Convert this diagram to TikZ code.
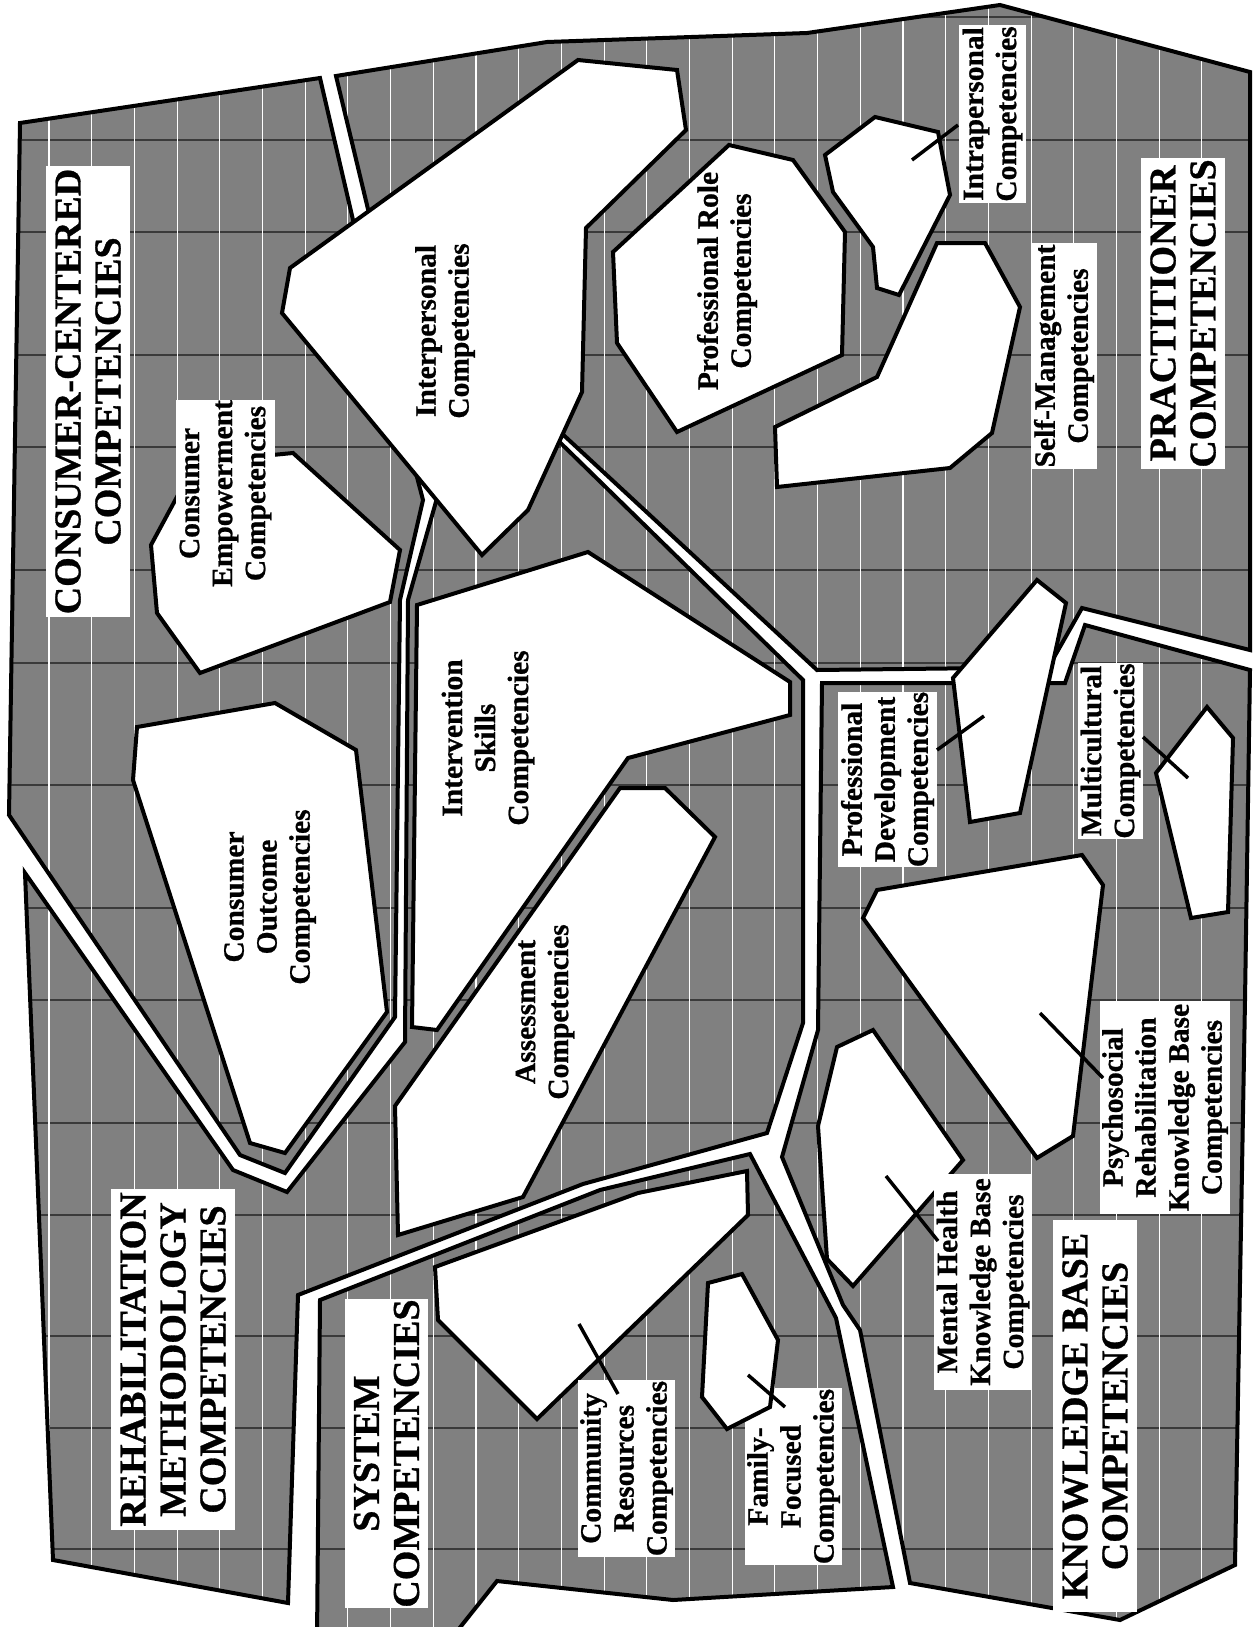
\documentclass[tikz,border=0pt]{standalone}
\usepackage{fontspec}
\setmainfont{Liberation Serif}[BoldFeatures={FakeBold=0.8}]
\definecolor{regiongray}{RGB}{128,128,128}
\definecolor{gridgray}{RGB}{58,58,58}
\newcommand\lblfont{\bfseries\fontsize{29.5}{33}\selectfont}
\newcommand\bigfont{\bfseries\fontsize{38}{40}\selectfont}
% grid of dark horizontal and white vertical rules inside every area
\newcommand\hatchgrid{%
  \foreach \gy in {17,140,232,355,447,570,663,785,908,1000,1123,1215,1336,1428,1549}
    {\draw[hline] (0,\gy) -- (1254,\gy);}
  \foreach \k in {0,...,27}
    {\draw[vline] ({49+42.7*\k},0) -- ({49+42.7*\k},1640);}
}
% one grey competency area: fill, grid, outline
\newcommand\comparea[1]{%
  \fill[regiongray] #1;
  \begin{scope}\clip #1; \hatchgrid \end{scope}
  \draw[edgeline] #1;
}
\tikzset{
  edgeline/.style={draw=black, line width=4pt, line join=miter},
  compshape/.style={fill=white, draw=black, line width=4pt, line join=miter},
  hline/.style={draw=gridgray, line width=1.2pt},
  vline/.style={draw=white, line width=1.1pt},
  leader/.style={draw=black, line width=3.5pt},
  lbl/.style={rotate=90, align=center, font=\lblfont, inner sep=0pt},
  lblbox/.style={lbl, fill=white},
  bigbox/.style={rotate=90, align=center, font=\bigfont, fill=white, inner sep=0pt},
}
\begin{document}
\begin{tikzpicture}[x=1pt,y=-1pt]
\useasboundingbox (0,0) rectangle (1254,1627);
\clip (0,0) rectangle (1254,1627);

% ---- the five grey areas ----
% consumer-centered
\comparea{(20,123) -- (320,78) -- (360,250) -- (412,458) -- (423,500) -- (400,600) -- (395,1017) -- (285,1173) -- (240,1155) -- (9,815) -- cycle}
% practitioner
\comparea{(336,76) -- (547,42) -- (807,33) -- (1000,5) -- (1250,72) -- (1250,650) -- (1082,608) -- (1044,675) -- (990,668) -- (817,670) -- (530,404) -- (373,230) -- cycle}
% rehabilitation methodology
\comparea{(445,470) -- (535,418) -- (803,680) -- (803,1023) -- (767,1133) -- (583,1184) -- (298,1295) -- (288,1603) -- (53,1560) -- (25,873) -- (233,1170) -- (287,1192) -- (405,1042) -- (408,600) -- cycle}
% system
\comparea{(320,1300) -- (600,1190) -- (750,1154) -- (836,1318) -- (893,1587) -- (673,1600) -- (497,1581) -- (450,1640) -- (317,1640) -- cycle}
% knowledge base
\comparea{(822,683) -- (1065,683) -- (1085,625) -- (1250,670) -- (1245,1000) -- (1235,1565) -- (1120,1620) -- (910,1583) -- (860,1330) -- (843,1305) -- (782,1157) -- (818,1030) -- cycle}

% ---- white competency shapes ----
\draw[compshape] (578,60) -- (677,70) -- (686,130) -- (586,228) -- (582,392) -- (528,510) -- (482,555) -- (282,313) -- (290,268) -- cycle;
\draw[compshape] (729,145) -- (793,160) -- (845,232) -- (842,355) -- (677,432) -- (617,343) -- (613,252) -- cycle;
\draw[compshape] (875,117) -- (938,132) -- (950,195) -- (899,295) -- (877,288) -- (873,247) -- (833,192) -- (825,155) -- cycle;
\draw[compshape] (937,243) -- (985,243) -- (1020,307) -- (992,433) -- (950,468) -- (777,487) -- (775,427) -- (877,377) -- cycle;
\draw[compshape] (293,453) -- (400,550) -- (390,602) -- (200,673) -- (157,613) -- (151,545) -- (178,495) -- (200,462) -- cycle;
\draw[compshape] (137,727) -- (275,703) -- (356,750) -- (387,1012) -- (285,1153) -- (250,1143) -- (133,780) -- cycle;
\draw[compshape] (417,605) -- (588,552) -- (790,682) -- (790,715) -- (628,758) -- (437,1030) -- (412,1027) -- cycle;
\draw[compshape] (620,788) -- (665,788) -- (715,837) -- (523,1197) -- (398,1235) -- (395,1106) -- cycle;
\draw[compshape] (953,678) -- (1037,580) -- (1066,603) -- (1020,813) -- (970,822) -- cycle;
\draw[compshape] (1207,707) -- (1233,738) -- (1228,912) -- (1191,918) -- (1156,773) -- cycle;
\draw[compshape] (877,890) -- (1082,855) -- (1103,885) -- (1073,1136) -- (1037,1158) -- (863,918) -- cycle;
\draw[compshape] (837,1047) -- (873,1030) -- (963,1160) -- (853,1286) -- (827,1259) -- (818,1126) -- cycle;
\draw[compshape] (435,1267) -- (638,1193) -- (747,1171) -- (748,1215) -- (537,1419) -- (438,1320) -- cycle;
\node[lblbox, minimum width=177, minimum height=97] (familyLbl) at (793.5,1476.5) {Family-\\Focused\\Competencies};
\draw[compshape] (708,1283) -- (742,1274) -- (778,1340) -- (770,1407) -- (727,1429) -- (702,1397) -- cycle;

% ---- labels inside shapes ----
\node[lbl] (interLbl) at (445,331) {Interpersonal\\Competencies};
\node[lbl] (roleLbl) at (727,281) {Professional Role\\Competencies};
\node[lbl] (outcomeLbl) at (270,897) {Consumer\\Outcome\\Competencies};
\node[lbl] (interventionLbl) at (488,738) {Intervention\\Skills\\Competencies};
\node[lbl] (assessLbl) at (545,1012) {Assessment\\Competencies};

% ---- boxed labels ----
\node[lblbox, minimum width=178, minimum height=67] (intraLbl) at (992.5,114) {Intrapersonal\\Competencies};
\node[lblbox, minimum width=226, minimum height=66] (selfLbl) at (1064,356) {Self-Management\\Competencies};
\node[lblbox, minimum width=183, minimum height=99] (empowerLbl) at (225.5,493.5) {Consumer\\Empowerment\\Competencies};
\node[lblbox, minimum width=175, minimum height=99] (pdLbl) at (887.5,779.5) {Professional\\Development\\Competencies};
\node[lblbox, minimum width=176, minimum height=65] (multiLbl) at (1110.5,751) {Multicultural\\Competencies};
\node[lblbox, minimum width=213, minimum height=130] (psychoLbl) at (1165,1107.5) {Psychosocial\\Rehabilitation\\Knowledge Base\\Competencies};
\node[lblbox, minimum width=216, minimum height=98] (mentalLbl) at (983,1282) {Mental Health\\Knowledge Base\\Competencies};
\node[lblbox, minimum width=177, minimum height=97] (commLbl) at (626.5,1468.5) {Community\\Resources\\Competencies};

\node[bigbox, minimum width=311, minimum height=84] (practLbl) at (1183,313.5) {PRACTITIONER\\COMPETENCIES};
\node[bigbox, minimum width=451, minimum height=84] (consumerLbl) at (88,391.5) {CONSUMER-CENTERED\\COMPETENCIES};
\node[bigbox, minimum width=392, minimum height=84] (knowLbl) at (1095,1416) {KNOWLEDGE BASE\\COMPETENCIES};
\node[bigbox, minimum width=309, minimum height=83] (systemLbl) at (386.5,1453.5) {SYSTEM\\COMPETENCIES};
\node[bigbox, minimum width=341, minimum height=124] (rehabLbl) at (173,1359.5) {REHABILITATION\\METHODOLOGY\\COMPETENCIES};

% ---- leader lines from shapes to their labels ----
\coordinate (intraTip) at (912,160);   \coordinate (intraEnd) at (958,125);
\coordinate (pdTip) at (984,716);      \coordinate (pdEnd) at (937,750);
\coordinate (multiTip) at (1188,778);  \coordinate (multiEnd) at (1143,737);
\coordinate (psychoTip) at (1040,1013);\coordinate (psychoEnd) at (1103,1078);
\coordinate (mentalTip) at (886,1176); \coordinate (mentalEnd) at (938,1241);
\coordinate (commTip) at (579,1324);   \coordinate (commEnd) at (618,1394);
\coordinate (familyTip) at (748,1375); \coordinate (familyEnd) at (785,1407);
\draw[leader] (intraTip) -- (intraEnd);
\draw[leader] (pdTip) -- (pdEnd);
\draw[leader] (multiTip) -- (multiEnd);
\draw[leader] (psychoTip) -- (psychoEnd);
\draw[leader] (mentalTip) -- (mentalEnd);
\draw[leader] (commTip) -- (commEnd);
\draw[leader] (familyTip) -- (familyEnd);
\end{tikzpicture}
\end{document}
